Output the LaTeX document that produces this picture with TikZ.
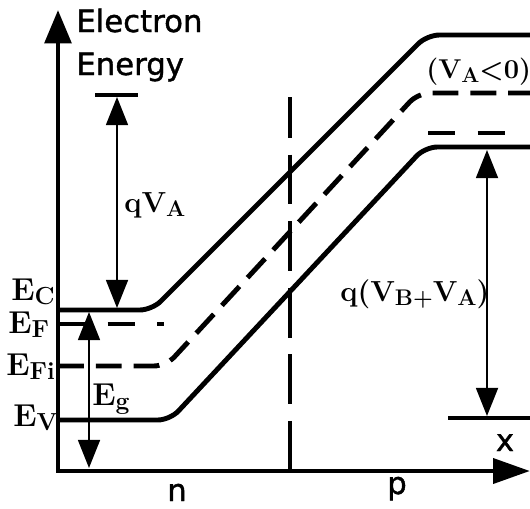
\documentclass[tikz,border=0pt]{standalone}
\usepackage{fontspec}
\newfontfamily\axisfont[FakeBold=1.2]{DejaVu Sans}
\usetikzlibrary{arrows.meta}
\newcommand\lowsub[1]{\raisebox{-2.8pt}{\scalebox{0.78}{#1}}}
\tikzset{
  band/.style = {line width=2.8pt, rounded corners=7pt},
  midgap/.style = {band, dash pattern=on 14.7pt off 6.8pt},
  fermi/.style = {line width=2.6pt, dash pattern=on 15.3pt off 13pt},
  junction/.style = {line width=2.5pt, dash pattern=on 28.3pt off 9.6pt, dash phase=5.1pt},
  axisline/.style = {line width=2.8pt, {Triangle[length=19pt,width=15pt]}-{Triangle[length=21pt,width=14pt]}},
  measure/.style = {line width=1.1pt, {Triangle[length=16pt,width=12.5pt]}-{Triangle[length=16pt,width=12.5pt]}},
  tick/.style = {line width=2.2pt},
  lvl/.style = {inner sep=0pt, anchor=base west, font=\fontsize{18}{20}\selectfont\bfseries},
  qlab/.style = {lvl, font=\fontsize{16.5}{18}\selectfont\bfseries},
  axlabel/.style = {inner sep=0pt, font=\axisfont\fontsize{17.5}{20}\selectfont},
}

\begin{document}
\begin{tikzpicture}[x=0.02cm, y=-0.02cm]
  \useasboundingbox (0,0) rectangle (530,508);
  % axes
  \coordinate (orig) at (58,471);
  \coordinate (etip) at (58,10);
  \coordinate (xtip) at (530,471);
  \draw[axisline] (etip) -- (orig) -- (xtip);
  \node[axlabel, anchor=base west] (elec) at (76,32) {Electron};
  \node[axlabel, anchor=base west] (ener) at (76,75) {Energy};
  \node[axlabel, anchor=base] (nside) at (177,501) {n};
  \node[axlabel, anchor=base] (pside) at (397,494) {p};
  \node[axlabel, anchor=base] (xlab) at (505,451) {x};
  % bands
  \draw[band] (58,310) -- (152,310) -- (427,35) -- (530,35);
  \draw[midgap] (58,366) -- (166,366) -- (418,93) -- (530,93);
  \draw[band] (58,420) -- (170,420) -- (425,147) -- (530,147);
  \draw[fermi] (58,324) -- (164,324);
  \draw[fermi] (428,133) -- (508,133);
  \draw[junction] (290,97) -- (290,471);
  % level labels
  \node[lvl] (ec) at (11,300) {E\lowsub{C}};
  \node[lvl] (ef) at (8,333) {E\lowsub{F}};
  \node[lvl] (efi) at (6,375) {E\lowsub{Fi}};
  \node[lvl] (ev) at (13,426) {E\lowsub{V}};
  \node[lvl] (eg) at (92,405) {E\lowsub{g}};
  % applied bias
  \coordinate (vatop) at (117,97);
  \coordinate (vabot) at (117,308);
  \draw[tick] (95,95) -- (138,95);
  \draw[measure] (vatop) -- (vabot);
  \node[qlab] (qva) at (124,212) {qV\lowsub{A}};
  \coordinate (egtop) at (89,312);
  \coordinate (egbot) at (89,468);
  \draw[measure] (egtop) -- (egbot);
  \coordinate (vbtop) at (487,150);
  \coordinate (vbbot) at (487,416);
  \draw[tick] (448,418) -- (530,418);
  \draw[measure] (vbtop) -- (vbbot);
  \node[qlab] (qvbva) at (340,301) {q(V\lowsub{B+}V\lowsub{A})};
  \node[qlab, font=\fontsize{15.5}{18}\selectfont\bfseries] (vneg) at (426,78) {(V\lowsub{A}<0)};
\end{tikzpicture}
\end{document}
